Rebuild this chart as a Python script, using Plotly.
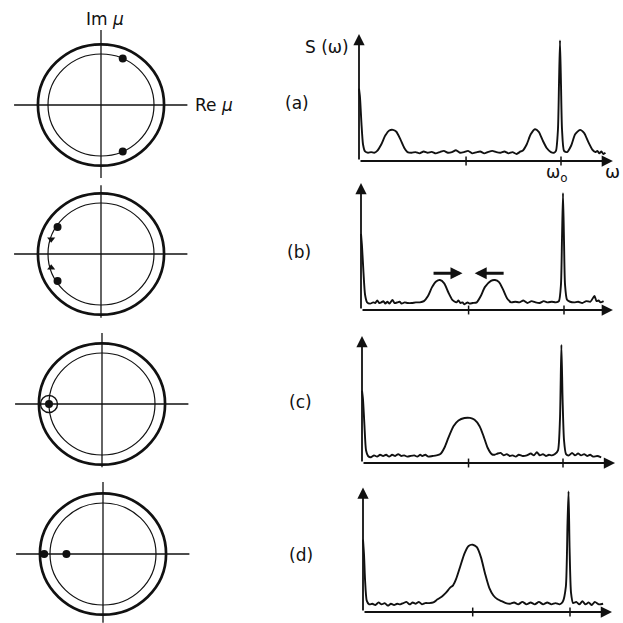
import plotly.graph_objects as go

# ---------------- data ----------------
panel_labels = ["(a)", "(b)", "(c)", "(d)"]

# left column: complex mu plane (inner circle = |mu| = 1)
inner_radius = 1.0
outer_radius = 1.19
mu_re = [[0.41, 0.41], [-0.82, -0.82], [-1.0], [-1.11, -0.69]]
mu_im = [[0.91, -0.91], [0.53, -0.53], [0.0], [0.0, 0.0]]
motion_re_b = [-0.94, -0.94]          # small arrowheads in (b)
motion_im_b = [0.29, -0.27]
motion_sym_b = ["triangle-down", "triangle-up"]
ring_re_c = [-1.0]                     # encircled double point in (c)
ring_im_c = [0.0]
re_axis_extent = [-1.64, 1.63]
im_axis_top = [1.47, 1.35, 1.39, 1.41]
im_axis_bottom = [-1.43, -1.25, -1.24, -1.35]

# right column: spectra S(omega), omega in units of omega_0
omega_a = [0.0, 0.005, 0.012, 0.02, 0.03, 0.045, 0.06, 0.075, 0.09, 0.11, 0.13, 0.15, 0.168, 0.185,
           0.205, 0.225, 0.24, 0.26, 0.28, 0.30, 0.32, 0.34, 0.36, 0.38, 0.40, 0.42, 0.44, 0.46,
           0.48, 0.50, 0.52, 0.54, 0.56, 0.58, 0.60, 0.62, 0.64, 0.66, 0.68, 0.70, 0.72, 0.74,
           0.76, 0.78, 0.80, 0.81, 0.83, 0.85, 0.871, 0.89, 0.91, 0.93, 0.95, 0.965, 0.975, 0.985,
           0.99, 0.995, 1.0, 1.005, 1.015, 1.03, 1.05, 1.07, 1.094, 1.115, 1.135, 1.155, 1.17,
           1.18, 1.19, 1.20, 1.21, 1.22]
S_a = [0.57, 0.50, 0.30, 0.13, 0.075, 0.065, 0.07, 0.065, 0.08, 0.13, 0.20, 0.24, 0.245, 0.23,
       0.17, 0.10, 0.07, 0.065, 0.07, 0.06, 0.075, 0.065, 0.072, 0.06, 0.07, 0.08, 0.065, 0.07,
       0.085, 0.065, 0.07, 0.08, 0.06, 0.068, 0.075, 0.06, 0.072, 0.08, 0.07, 0.065, 0.075, 0.06,
       0.07, 0.055, 0.075, 0.08, 0.13, 0.21, 0.25, 0.23, 0.16, 0.10, 0.07, 0.065, 0.08, 0.25,
       0.60, 0.95, 0.60, 0.25, 0.08, 0.07, 0.12, 0.21, 0.245, 0.22, 0.15, 0.09, 0.07,
       0.08, 0.06, 0.075, 0.055, 0.065]

omega_b = [0.0, 0.005, 0.012, 0.02, 0.03, 0.045, 0.06, 0.07, 0.08, 0.09, 0.10, 0.11, 0.12, 0.13,
           0.14, 0.155, 0.165, 0.18, 0.19, 0.20, 0.215, 0.23, 0.25, 0.27, 0.29, 0.31, 0.33, 0.35,
           0.37, 0.389, 0.41, 0.43, 0.45, 0.47, 0.48, 0.49, 0.50, 0.51, 0.525, 0.535, 0.55, 0.57,
           0.59, 0.61, 0.64, 0.66, 0.68, 0.70, 0.72, 0.74, 0.76, 0.78, 0.80, 0.82, 0.84, 0.86,
           0.88, 0.90, 0.92, 0.94, 0.96, 0.975, 0.985, 0.99, 0.995, 1.0, 1.005, 1.015, 1.03, 1.05,
           1.07, 1.09, 1.11, 1.13, 1.15, 1.16, 1.17, 1.18, 1.195]
S_b = [0.60, 0.50, 0.30, 0.12, 0.06, 0.05, 0.06, 0.055, 0.075, 0.055, 0.06, 0.07, 0.05, 0.065,
       0.05, 0.08, 0.055, 0.06, 0.065, 0.05, 0.06, 0.055, 0.055, 0.06, 0.06, 0.07, 0.11, 0.18,
       0.225, 0.236, 0.21, 0.14, 0.08, 0.06, 0.075, 0.055, 0.06, 0.045, 0.06, 0.05, 0.055, 0.06,
       0.11, 0.18, 0.23, 0.236, 0.22, 0.16, 0.09, 0.06, 0.065, 0.06, 0.075, 0.055, 0.07, 0.06,
       0.055, 0.07, 0.06, 0.065, 0.06, 0.07, 0.20, 0.55, 0.92, 0.55, 0.20, 0.08, 0.065, 0.06,
       0.065, 0.055, 0.07, 0.065, 0.11, 0.07, 0.075, 0.06, 0.07]

omega_c = [0.0, 0.005, 0.012, 0.02, 0.03, 0.045, 0.06, 0.075, 0.09, 0.105, 0.12, 0.135, 0.15,
           0.165, 0.18, 0.195, 0.21, 0.225, 0.24, 0.26, 0.275, 0.29, 0.30, 0.315, 0.33, 0.35,
           0.37, 0.39, 0.41, 0.43, 0.455, 0.48, 0.51, 0.537, 0.56, 0.585, 0.605, 0.625, 0.645,
           0.66, 0.675, 0.69, 0.705, 0.72, 0.735, 0.75, 0.765, 0.78, 0.80, 0.82, 0.84, 0.855,
           0.87, 0.885, 0.90, 0.915, 0.93, 0.945, 0.96, 0.975, 0.985, 0.992, 0.998, 1.005, 1.015,
           1.03, 1.045, 1.06, 1.075, 1.09, 1.105, 1.12, 1.135, 1.15, 1.17, 1.19]
S_c = [0.57, 0.50, 0.30, 0.10, 0.055, 0.045, 0.06, 0.05, 0.065, 0.055, 0.065, 0.05, 0.065,
       0.055, 0.07, 0.055, 0.06, 0.05, 0.055, 0.06, 0.05, 0.065, 0.055, 0.065, 0.05, 0.055,
       0.06, 0.07, 0.12, 0.20, 0.29, 0.335, 0.354, 0.355, 0.34, 0.29, 0.21, 0.12, 0.07,
       0.065, 0.075, 0.08, 0.06, 0.07, 0.055, 0.06, 0.05, 0.065, 0.055, 0.06, 0.075, 0.06,
       0.085, 0.06, 0.07, 0.055, 0.065, 0.06, 0.07, 0.10, 0.35, 0.93, 0.50, 0.18, 0.07,
       0.06, 0.08, 0.06, 0.075, 0.06, 0.07, 0.055, 0.065, 0.05, 0.055, 0.045]

omega_d = [0.0, 0.005, 0.01, 0.018, 0.03, 0.045, 0.06, 0.075, 0.09, 0.105, 0.12, 0.135, 0.15,
           0.165, 0.18, 0.195, 0.21, 0.225, 0.24, 0.255, 0.27, 0.285, 0.30, 0.32, 0.34, 0.36,
           0.38, 0.40, 0.42, 0.435, 0.45, 0.47, 0.49, 0.51, 0.53, 0.55, 0.57, 0.59, 0.61, 0.63,
           0.65, 0.67, 0.69, 0.71, 0.73, 0.75, 0.77, 0.79, 0.81, 0.83, 0.85, 0.87, 0.89, 0.91,
           0.93, 0.95, 0.965, 0.98, 0.988, 0.993, 0.998, 1.005, 1.015, 1.03, 1.045, 1.06, 1.075,
           1.09, 1.105, 1.12, 1.14, 1.16]
S_d = [0.57, 0.45, 0.25, 0.09, 0.06, 0.065, 0.055, 0.075, 0.06, 0.07, 0.05, 0.065, 0.055,
       0.065, 0.06, 0.07, 0.08, 0.06, 0.075, 0.065, 0.08, 0.06, 0.07, 0.07, 0.075, 0.10,
       0.12, 0.15, 0.19, 0.21, 0.26, 0.36, 0.46, 0.52, 0.53, 0.51, 0.43, 0.30, 0.19, 0.13,
       0.10, 0.085, 0.07, 0.065, 0.075, 0.06, 0.08, 0.06, 0.075, 0.06, 0.08, 0.06, 0.075, 0.06,
       0.07, 0.06, 0.08, 0.20, 0.70, 0.95, 0.50, 0.15, 0.07, 0.08, 0.06, 0.085, 0.06,
       0.075, 0.055, 0.08, 0.06, 0.065]

spectra_omega = [omega_a, omega_b, omega_c, omega_d]
spectra_S = [S_a, S_b, S_c, S_d]
tick_omega = [0.53, 1.0]
omega_axis_end = [1.257, 1.241, 1.259, 1.203]
S_axis_end = [1.0, 1.0, 1.0, 0.98]
shift_tail_b = [0.35, 0.71]
shift_head_b = [0.50, 0.56]
shift_level_b = 0.29

# ---------------- layout geometry (pixels of the 623 x 623 page) ----------------
W = 623
circle_center_px = [(101, 105), (101, 254), (102, 404), (103, 554)]
px_per_unit_re, px_per_unit_im = 53, 51
spec_origin_px = [359, 361, 362, 363]
spec_unit_px = [202, 203, 201, 207]
spec_axis_py = [161, 310, 463, 612]
spec_unit_py = 127

FONT = "DejaVu Sans"
INK = "#111111"

fig = go.Figure()
layout = dict(width=W, height=W, margin=dict(l=0, r=0, t=0, b=0),
              paper_bgcolor="white", plot_bgcolor="rgba(0,0,0,0)",
              showlegend=False, shapes=[], annotations=[])


def ax_names(n):
    s = "" if n == 1 else str(n)
    return "x" + s, "y" + s, "xaxis" + s, "yaxis" + s


# ---- left column: mu plane ----
for i in range(4):
    n = i + 1
    xr, yr, xk, yk = ax_names(n)
    cx, cy = circle_center_px[i]
    left, right = 0, 205
    top, bot = cy - 76, min(cy + 74, W)
    layout[xk] = dict(domain=[left / W, right / W], visible=False, fixedrange=True,
                      range=[(left - cx) / px_per_unit_re, (right - cx) / px_per_unit_re],
                      anchor=yr)
    layout[yk] = dict(domain=[1 - bot / W, 1 - top / W], visible=False, fixedrange=True,
                      range=[-(bot - cy) / px_per_unit_im, (cy - top) / px_per_unit_im],
                      anchor=xr)
    for r, w in [(outer_radius, 2.7), (inner_radius, 1.2)]:
        layout["shapes"].append(dict(type="circle", xref=xr, yref=yr, x0=-r, x1=r, y0=-r, y1=r,
                                     line=dict(color=INK, width=w)))
    fig.add_trace(go.Scatter(x=[re_axis_extent[0], re_axis_extent[1], None, 0, 0],
                             y=[0, 0, None, im_axis_bottom[i], im_axis_top[i]],
                             mode="lines", line=dict(color=INK, width=1.3),
                             xaxis=xr, yaxis=yr, hoverinfo="skip"))
    fig.add_trace(go.Scatter(x=mu_re[i], y=mu_im[i], mode="markers",
                             marker=dict(color=INK, size=8), xaxis=xr, yaxis=yr))
    if i == 1:
        fig.add_trace(go.Scatter(x=motion_re_b, y=motion_im_b, mode="markers",
                                 marker=dict(color=INK, size=7, symbol=motion_sym_b),
                                 xaxis=xr, yaxis=yr))
    if i == 2:
        fig.add_trace(go.Scatter(x=ring_re_c, y=ring_im_c, mode="markers",
                                 marker=dict(color=INK, size=17, symbol="circle-open",
                                             line=dict(color=INK, width=1.4)),
                                 xaxis=xr, yaxis=yr))

# ---- right column: spectra ----
for i in range(4):
    n = i + 5
    xr, yr, xk, yk = ax_names(n)
    ox, ux, ay = spec_origin_px[i], spec_unit_px[i], spec_axis_py[i]
    left, right = 330, 621
    top, bot = ay - 138, min(ay + 10, W)
    layout[xk] = dict(domain=[left / W, right / W], visible=False, fixedrange=True,
                      range=[(left - ox) / ux, (right - ox) / ux], anchor=yr)
    layout[yk] = dict(domain=[1 - bot / W, 1 - top / W], visible=False, fixedrange=True,
                      range=[-(bot - ay) / spec_unit_py, (ay - top) / spec_unit_py], anchor=xr)
    fig.add_trace(go.Scatter(x=spectra_omega[i], y=spectra_S[i], mode="lines",
                             line=dict(color=INK, width=1.9, shape="spline", smoothing=0.6),
                             xaxis=xr, yaxis=yr, hoverinfo="skip"))
    tx, ty = [], []
    for t in tick_omega:
        tx += [t, t, None]
        ty += [-0.035, 0.035, None]
    fig.add_trace(go.Scatter(x=tx, y=ty, mode="lines", line=dict(color=INK, width=1.5),
                             xaxis=xr, yaxis=yr, hoverinfo="skip"))
    # axes with arrow heads
    for (hx, hy) in [(omega_axis_end[i], 0), (0, S_axis_end[i])]:
        layout["annotations"].append(dict(x=hx, y=hy, ax=0, ay=0, xref=xr, yref=yr,
                                          axref=xr, ayref=yr, text="", showarrow=True,
                                          arrowhead=2, arrowsize=1.25, arrowwidth=1.8,
                                          arrowcolor=INK, standoff=0))
    if i == 1:
        for tail, head in zip(shift_tail_b, shift_head_b):
            layout["annotations"].append(dict(x=head, y=shift_level_b, ax=tail, ay=shift_level_b,
                                              xref=xr, yref=yr, axref=xr, ayref=yr, text="",
                                              showarrow=True, arrowhead=2, arrowsize=0.8,
                                              arrowwidth=3, arrowcolor=INK, standoff=0))


# ---- text ----
def label(text, px, py, size=17):
    layout["annotations"].append(dict(text=text, x=px / W, y=1 - py / W, xref="paper", yref="paper",
                                      showarrow=False, xanchor="center", yanchor="middle",
                                      font=dict(family=FONT, size=size, color=INK)))


label("Im <i>μ</i>", 105, 19)
label("Re <i>μ</i>", 214, 105)
label("S (ω)", 327, 47)
label("ω<sub>o</sub>", 557, 173)
label("ω", 612, 172, size=18)
for lab, py, px in zip(panel_labels, [103, 252, 402, 555], [297, 299, 300, 301]):
    label(lab, px, py)

fig.update_layout(**layout)
fig.write_html("out.html", config={"displayModeBar": False},
               post_script="document.body.style.margin='0';document.body.style.overflow='hidden';")
